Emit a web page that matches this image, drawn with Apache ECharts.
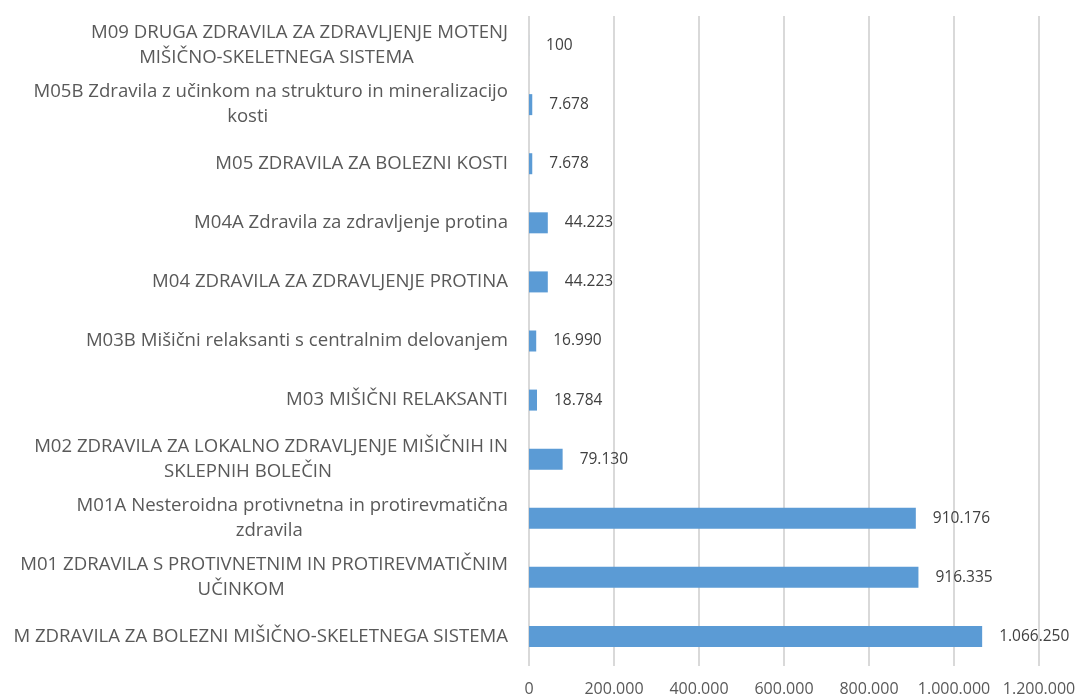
<!DOCTYPE html>
<html>
<head>
<meta charset="utf-8">
<script src="https://cdn.jsdelivr.net/npm/echarts@6/dist/echarts.min.js"></script>
<style>
  html, body { margin: 0; padding: 0; background: #fff; }
  #chart { width: 1080px; height: 697px; }
</style>
</head>
<body>
<div id="chart"></div>
<script>
// kategorije od spodaj navzgor
const categories = [
  'M ZDRAVILA ZA BOLEZNI MIŠIČNO-SKELETNEGA SISTEMA',
  'M01 ZDRAVILA S PROTIVNETNIM IN PROTIREVMATIČNIM\nUČINKOM',
  'M01A Nesteroidna protivnetna in protirevmatična\nzdravila',
  'M02 ZDRAVILA ZA LOKALNO ZDRAVLJENJE MIŠIČNIH IN\nSKLEPNIH BOLEČIN',
  'M03 MIŠIČNI RELAKSANTI',
  'M03B Mišični relaksanti s centralnim delovanjem',
  'M04 ZDRAVILA ZA ZDRAVLJENJE PROTINA',
  'M04A Zdravila za zdravljenje protina',
  'M05 ZDRAVILA ZA BOLEZNI KOSTI',
  'M05B Zdravila z učinkom na strukturo in mineralizacijo\nkosti',
  'M09 DRUGA ZDRAVILA ZA ZDRAVLJENJE MOTENJ\nMIŠIČNO-SKELETNEGA SISTEMA',
]
const values = [1066250, 916335, 910176, 79130, 18784, 16990, 44223, 44223, 7678, 7678, 100]
const xTicks = { min: 0, max: 1200000, interval: 200000 }

// 1066250 -> 1.066.250
const fmt = (n) => String(n).replace(/\B(?=(\d{3})+(?!\d))/g, '.')

const font = '"Open Sans", sans-serif'
const chart = echarts.init(document.getElementById('chart'))

const option = {
  animation: false,
  grid: {
    left: 529,
    right: 41,
    top: 16,
    bottom: 31,
    containLabel: false,
  },
  xAxis: {
    type: 'value',
    min: xTicks.min,
    max: xTicks.max,
    interval: xTicks.interval,
    axisLine: { show: false },
    axisTick: { show: false },
    splitLine: {
      lineStyle: { color: '#d9d9d9', width: 2 },
    },
    axisLabel: {
      color: '#595959',
      fontSize: 16,
      fontFamily: font,
      margin: 15,
      formatter: (v) => fmt(v),
    },
  },
  yAxis: {
    type: 'category',
    data: categories,
    axisLine: { show: false },
    axisTick: { show: false },
    axisLabel: {
      margin: 21,
      interval: 0,
      color: '#595959',
      fontSize: 18.6,
      fontFamily: font,
      lineHeight: 25,
      // prva vrstica desno poravnana, druga vrstica sredinsko (kot v Excelu)
      formatter: (v) => v.split('\n').map((l, i) => (i === 0 ? '{c|' : '{d|') + l + '}').join('\n'),
      rich: {
        c: {
          align: 'center',
          color: '#595959',
          fontSize: 18.6,
          fontFamily: font,
          lineHeight: 25,
        },
        d: {
          align: 'center',
          color: '#595959',
          fontSize: 18.6,
          fontFamily: font,
          lineHeight: 25,
          padding: [0, 46, 0, 0],
        },
      },
    },
  },
  series: [
    {
      type: 'bar',
      data: values,
      barWidth: 21,
      itemStyle: { color: '#5b9bd5' },
      label: {
        show: true,
        position: 'right',
        distance: 17,
        color: '#404040',
        fontSize: 15.5,
        fontFamily: font,
        formatter: (p) => fmt(p.value),
      },
    },
  ],
}

chart.setOption(option)
</script>
</body>
</html>
